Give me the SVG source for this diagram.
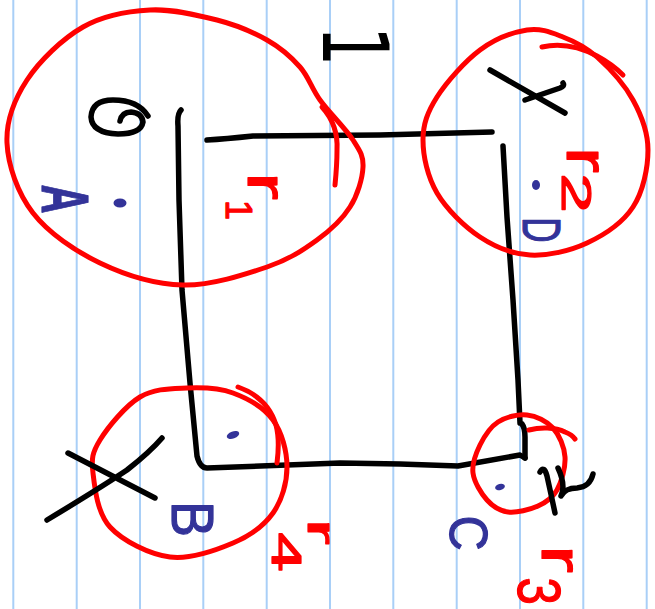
<svg xmlns="http://www.w3.org/2000/svg" width="655" height="609" viewBox="0 0 655 609">
  <style>
    .rule { stroke: #a9cff7; stroke-width: 2; }
    .ink { fill: none; stroke: #000; stroke-width: 5.5; stroke-linecap: round; stroke-linejoin: round; }
    .ring { fill: none; stroke: #ff0000; stroke-width: 5; stroke-linecap: round; stroke-linejoin: round; }
    .pt { fill: #333399; }
    .lbl { fill: #333399; stroke: #333399; stroke-width: 1.2; stroke-linejoin: round; font-family: "Liberation Sans", Arial, sans-serif; text-anchor: middle; }
    .rad { fill: #ff0000; stroke: #ff0000; stroke-width: 1.2; stroke-linejoin: round; font-family: "Liberation Sans", Arial, sans-serif; text-anchor: middle; }
    .len { fill: #000; font-family: "DejaVu Sans", sans-serif; text-anchor: middle; }
  </style>

  <!-- ruled paper, turned sideways -->
  <rect width="655" height="609" fill="#fff"/>
  <g id="paper">
    <line class="rule" x1="13.3" y1="0" x2="13.3" y2="609"/>
    <line class="rule" x1="76.7" y1="0" x2="76.7" y2="609"/>
    <line class="rule" x1="140" y1="0" x2="140" y2="609"/>
    <line class="rule" x1="203.3" y1="0" x2="203.3" y2="609"/>
    <line class="rule" x1="266.7" y1="0" x2="266.7" y2="609"/>
    <line class="rule" x1="330" y1="0" x2="330" y2="609"/>
    <line class="rule" x1="393.3" y1="0" x2="393.3" y2="609"/>
    <line class="rule" x1="456.7" y1="0" x2="456.7" y2="609"/>
    <line class="rule" x1="520" y1="0" x2="520" y2="609"/>
    <line class="rule" x1="583.3" y1="0" x2="583.3" y2="609"/>
    <line class="rule" x1="646.7" y1="0" x2="646.7" y2="609"/>
  </g>

  <!-- sides of the square -->
  <g id="connectors">
    <path class="ink" d="M181,110 Q177,114 178,126 L179,200 L182,290 L190,383 L197,456 Q200,468 207,468 L340,463 L400,464 L458,466 L520,455 L525,458"/>
    <path class="ink" d="M207,140 Q225,139 253,136 L380,135 L492,132"/>
    <path class="ink" d="M503,146 L507,217 L513,300 L518,380 L520,423 M522,424 Q525,428 525,437 L525,458"/>
    <text class="len" font-size="55" transform="translate(323,46) rotate(90) scale(1.15,1.65)">1</text>
  </g>

  <!-- corner A, radius r1 -->
  <g id="corner-A">
    <path class="ring" d="M150,10 C172.3,8.8 197.5,15 217,20 C236.5,25 253.2,32.2 267,40 C280.8,47.8 291.2,57 300,67 C308.8,77 311.2,87.8 320,100 C328.8,112.2 345.8,128.8 353,140 C360.2,151.2 363.5,155.8 363,167 C362.5,178.2 357.7,194.8 350,207 C342.3,219.2 330.8,230 317,240 C303.2,250 289.3,259.5 267,267 C244.7,274.5 210.8,285.7 183,285 C155.2,284.3 125,275 100,263 C75,251 48.5,233 33,213 C17.5,193 8,165.2 7,143 C6,120.8 14.3,99.3 27,80 C39.7,60.7 62.5,38.7 83,27 C103.5,15.3 127.7,11.2 150,10 Z"/>
    <path class="ring" d="M322,107 C332,118 338,132 337,150 C337,165 336,175 335,185"/>
    <path class="ink" d="M120,121 Q122,112 131,112 Q142,113 143,122 Q141,134 118,134 Q92,133 91,117 Q92,100 113,100 Q138,100 148,116"/>
    <ellipse class="pt" cx="120" cy="203" rx="6.5" ry="4.5"/>
    <text class="lbl" font-size="67" font-weight="bold" transform="translate(42,199) rotate(90) scale(0.6,1)">A</text>
    <text class="rad" font-size="56" transform="translate(248,186) rotate(90) scale(1.5,1)">r</text>
    <text class="rad" font-size="36" transform="translate(226,210) rotate(90)">1</text>
  </g>

  <!-- corner D, radius r2 -->
  <g id="corner-D">
    <path class="ring" d="M527,30 C540.8,27.8 551.3,32.5 563,37 C574.7,41.5 585.3,46.5 597,57 C608.7,67.5 624.5,84.5 633,100 C641.5,115.5 648,132.2 648,150 C648,167.8 643.2,191.5 633,207 C622.8,222.5 604.2,235 587,243 C569.8,251 547.8,256 530,255 C512.2,254 495.5,247.3 480,237 C464.5,226.7 446.5,209.2 437,193 C427.5,176.8 423,156 423,140 C423,124 427.5,112 437,97 C446.5,82 465,61.2 480,50 C495,38.8 513.2,32.2 527,30 Z"/>
    <path class="ring" d="M542,47 C560,43 580,47 597,56 C608,62 616,68 623,75"/>
    <path class="ink" d="M490,70 L565,113 M525,100 L560,88 Q565,86 563,83"/>
    <ellipse class="pt" cx="536" cy="185" rx="4" ry="5"/>
    <text class="lbl" font-size="54" transform="translate(523,230) rotate(90) scale(0.65,1)">D</text>
    <text class="rad" font-size="60" transform="translate(567,160) rotate(90) scale(1.3,1)">r</text>
    <text class="rad" font-size="42" transform="translate(562,193) rotate(90) scale(1.7,1)">2</text>
  </g>

  <!-- corner B, radius r4 -->
  <g id="corner-B">
    <path class="ring" d="M187,388 C202.5,387.3 218.7,387.7 233,393 C247.3,398.3 264,407.7 273,420 C282,432.3 287,451.5 287,467 C287,482.5 282,500.3 273,513 C264,525.7 250.2,535.7 233,543 C215.8,550.3 190.5,559.7 170,557 C149.5,554.3 122.8,541 110,527 C97.2,513 94.7,487.5 93,473 C91.3,458.5 92.2,452.7 100,440 C107.8,427.3 125.5,405.7 140,397 C154.5,388.3 171.5,388.7 187,388 Z"/>
    <path class="ring" d="M238,387 C255,393 270,405 276,425 C280,440 278,455 277,463"/>
    <path class="ink" d="M68,453 L155,498 M47,520 Q100,488 127,470 Q150,452 162,438"/>
    <ellipse class="pt" cx="233" cy="435" rx="6.5" ry="3.5" transform="rotate(-20 233 435)"/>
    <text class="lbl" font-size="60" transform="translate(172,519) rotate(90) scale(0.9,1)">B</text>
    <text class="rad" font-size="38" transform="translate(308,532) rotate(90) scale(2,1)">r</text>
    <text class="rad" font-size="42" transform="translate(272,552) rotate(90) scale(1.7,1)">4</text>
  </g>

  <!-- corner C, radius r3 -->
  <g id="corner-C">
    <path class="ring" d="M527,415 C536.2,416 546.7,421 553,428 C559.3,435 564.3,446.7 565,457 C565.7,467.3 561.5,481.8 557,490 C552.5,498.2 546.2,502.3 538,506 C529.8,509.7 516.5,513 508,512 C499.5,511 492.8,506.5 487,500 C481.2,493.5 474.2,482.2 473,473 C471.8,463.8 475.8,453.5 480,445 C484.2,436.5 490.2,427 498,422 C505.8,417 517.8,414 527,415 Z"/>
    <path class="ring" d="M529,430 C540,427 555,427 565,432 C570,434 573,436 575,439"/>
    <path class="ink" d="M540,472 Q544,465 547,476 Q551,494 555,513 M558,468 Q566,485 561,496 Q565,488 577,488 Q590,487 593,474"/>
    <ellipse class="pt" cx="500" cy="487" rx="5" ry="3" transform="rotate(-15 500 487)"/>
    <text class="lbl" font-size="53" transform="translate(450,533) rotate(90) scale(0.92,1)">C</text>
    <text class="rad" font-size="58" transform="translate(542,559) rotate(90) scale(1.45,1)">r</text>
    <text class="rad" font-size="62" transform="translate(518,591) rotate(90) scale(0.8,1)">3</text>
  </g>
</svg>
